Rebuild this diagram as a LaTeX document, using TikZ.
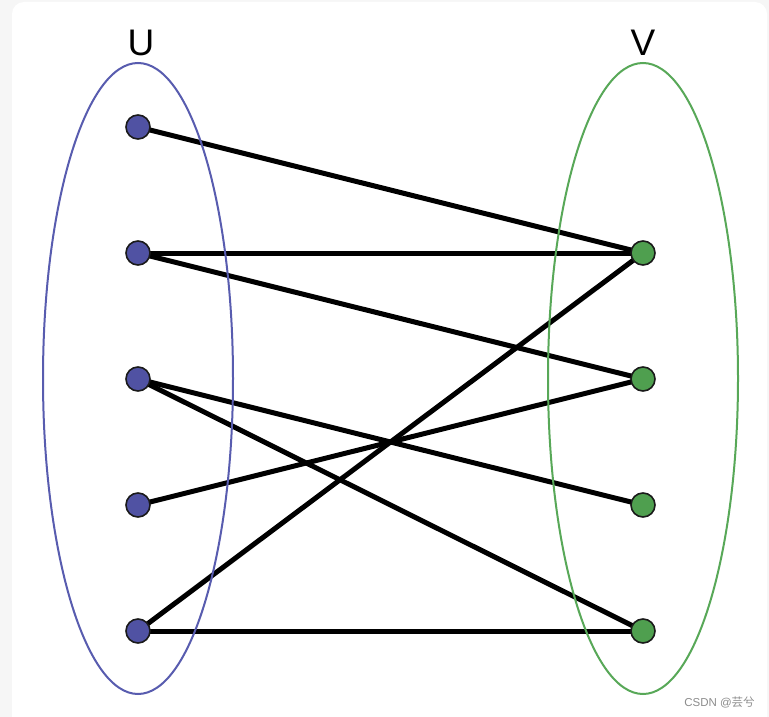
\documentclass[tikz,border=0pt]{standalone}
\usepackage{fontspec}
\setsansfont{Liberation Sans}
\newfontfamily\cjkfont{Noto Sans CJK SC}
\usepackage{tikz}
\usetikzlibrary{
  shapes.geometric,
  backgrounds
}
\tikzset{
  every node/.style={inner sep=2pt}
}
\definecolor{pageGray}{RGB}{246, 246, 246}
\definecolor{setBlue}{RGB}{88, 92, 175}
\definecolor{nodeBlue}{RGB}{80, 82, 163}
\definecolor{setGreen}{RGB}{88, 168, 88}
\definecolor{nodeGreen}{RGB}{79, 159, 79}
\definecolor{nodeBorder}{RGB}{26, 26, 26}
\definecolor{markGray}{RGB}{140, 140, 140}

\begin{document}
\begin{tikzpicture}[
    x=1pt, y=-1pt,
    font=\sffamily,
    setbox/.style={ellipse, draw, line width=2pt, minimum width=190pt, minimum height=631pt, inner sep=0pt},
    vertex/.style={circle, draw=nodeBorder, line width=1.6pt, minimum size=24pt, inner sep=0pt},
    setlabel/.style={font=\fontsize{37}{40}\selectfont\sffamily, inner sep=0pt},
    edge/.style={draw=black, line width=5pt}
]

    % page and card
    \useasboundingbox (0,0) rectangle (769,717);
    \begin{scope}[on background layer]
    \fill[pageGray] (0,0) rectangle (769,717);
    \fill[white, rounded corners=12pt] (12,2) rectangle (767,740);
    \end{scope}

    % the two sets
    \node[setbox, draw=setBlue] (setU) at (138,378.5) {};
    \node[setbox, draw=setGreen] (setV) at (643,378.5) {};

    \node[setlabel] (labelU) at (141,43) {U};
    \node[setlabel] (labelV) at (643,43) {V};

    % vertices
    \node[vertex, fill=nodeBlue] (u1) at (138,127) {};
    \node[vertex, fill=nodeBlue] (u2) at (138,253) {};
    \node[vertex, fill=nodeBlue] (u3) at (138,379) {};
    \node[vertex, fill=nodeBlue] (u4) at (138,505) {};
    \node[vertex, fill=nodeBlue] (u5) at (138,631) {};

    \node[vertex, fill=nodeGreen] (v1) at (643,253) {};
    \node[vertex, fill=nodeGreen] (v2) at (643,379) {};
    \node[vertex, fill=nodeGreen] (v3) at (643,505) {};
    \node[vertex, fill=nodeGreen] (v4) at (643,631) {};

    % edges
    \begin{scope}[on background layer]
    \draw[edge] (u1.center) -- (v1.center);
    \draw[edge] (u2.center) -- (v1.center);
    \draw[edge] (u2.center) -- (v2.center);
    \draw[edge] (u3.center) -- (v3.center);
    \draw[edge] (u3.center) -- (v4.center);
    \draw[edge] (u4.center) -- (v2.center);
    \draw[edge] (u5.center) -- (v1.center);
    \draw[edge] (u5.center) -- (v4.center);
    \end{scope}

    \node[text=markGray, font=\fontsize{11.5}{13}\selectfont\sffamily, inner sep=0pt] (mark) at (719.5,702) {CSDN @{\cjkfont 芸兮}};

\end{tikzpicture}
\end{document}
